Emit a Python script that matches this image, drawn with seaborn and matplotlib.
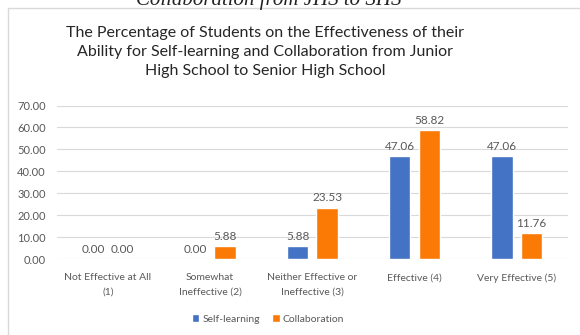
import matplotlib
matplotlib.use("Agg")
import matplotlib.pyplot as plt
from matplotlib.patches import Rectangle
import seaborn as sns
import pandas as pd

categories = ["Not Effective at All\n(1)", "Somewhat\nIneffective (2)",
              "Neither Effective or\nIneffective (3)", "Effective (4)",
              "Very Effective (5)"]
self_learning = [0.00, 0.00, 5.88, 47.06, 47.06]
collaboration = [0.00, 5.88, 23.53, 58.82, 11.76]
series = ["Self-learning", "Collaboration"]
yticks = [0, 10, 20, 30, 40, 50, 60, 70]

df = pd.DataFrame({
    "category": categories * 2,
    "value": self_learning + collaboration,
    "series": [series[0]] * len(categories) + [series[1]] * len(categories),
})

sns.set_theme(style="white")
plt.rcParams["font.family"] = ["Lato", "DejaVu Sans"]

fig = plt.figure(figsize=(5.8, 3.35), dpi=100)
ax = fig.add_axes([0.098, 0.226, 0.881, 0.459])

sns.barplot(data=df, x="category", y="value", hue="series",
            palette=["#4472C4", "#FB7A06"], width=0.58, gap=0.28,
            order=categories, hue_order=series, ax=ax, saturation=1)

for cont in ax.containers:
    ax.bar_label(cont, fmt="%.2f", padding=3, fontsize=8.5, color="#595959")

ax.set_ylim(0, 70)
ax.set_yticks(yticks)
ax.set_yticklabels([f"{v:.2f}" for v in yticks], fontsize=8, color="#595959")
ax.tick_params(axis="x", labelsize=7.5, colors="#595959", length=0, pad=10)
ax.tick_params(axis="y", length=0, pad=8)
for lbl in ax.get_xticklabels():
    lbl.set_linespacing(1.8)
ax.set_xlabel("")
ax.set_ylabel("")
ax.set_xlim(-0.5, 4.5)
ax.yaxis.grid(True, color="#D9D9D9", lw=0.8)
ax.set_axisbelow(True)
for s in ax.spines.values():
    s.set_visible(False)

fig.text(265 / 580, 1 - 52 / 335,
         "The Percentage of Students on the Effectiveness of their\n"
         "Ability for Self-learning and Collaboration from Junior\n"
         "High School to Senior High School",
         fontsize=11.5, color="#262626", linespacing=1.5,
         ha="center", va="center", multialignment="center")

handles, labels = ax.get_legend_handles_labels()
ax.get_legend().remove()
leg = fig.legend(handles, labels, loc="center",
                 bbox_to_anchor=(268 / 580, 1 - 319 / 335), ncol=2,
                 frameon=False, fontsize=7.5, handlelength=0.7,
                 handleheight=0.7, columnspacing=1.2, handletextpad=0.3)
for t in leg.get_texts():
    t.set_color("#595959")

# chart frame
fig.patches.append(Rectangle((8 / 580, -0.1), 1.2, 1 - 8 / 335 + 0.1,
                             transform=fig.transFigure, fill=False,
                             edgecolor="#D9D9D9", lw=1))

fig.text(269 / 580, 1 - 5 / 335, "Collaboration from JHS to SHS",
         family="Liberation Serif", style="italic", fontsize=15,
         ha="center", va="baseline", color="#222222")

fig.savefig("out.png", dpi=100)
